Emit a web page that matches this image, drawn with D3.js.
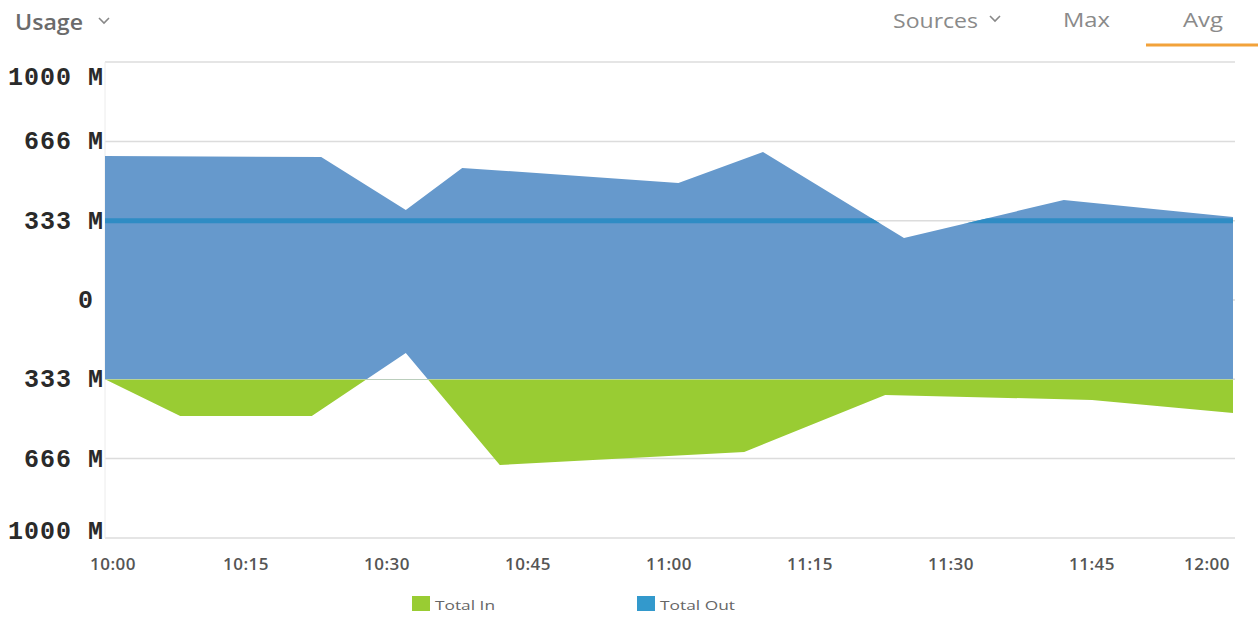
<!DOCTYPE html>
<html>
<head>
<meta charset="utf-8">
<script src="https://cdn.jsdelivr.net/npm/d3@7/dist/d3.min.js"></script>
<style>
  body { margin: 0; background: #fff; }
</style>
</head>
<body>
<script>
var w = 1258;
var h = 617;

// total out (upper edge of blue area), sampled times
var outTimes = ["10:00", "10:23", "10:32", "10:38", "11:01", "11:10", "11:25", "11:42", "12:00"];
var outValues = [605, 601, 378, 555, 492, 622, 261, 420, 349];

// total in (lower edge of green area)
var inTimes = ["10:00", "10:08", "10:22", "10:32", "10:42", "11:08", "11:23", "11:45", "12:00"];
var inValues = [-333, -487, -487, -223, -693, -639, -399, -420, -475];

var baseline = -333;
var avgLine = 333;

var yTicks = [1000, 666, 333, 0, -333, -666, -1000];
var xTicks = ["10:00", "10:15", "10:30", "10:45", "11:00", "11:15", "11:30", "11:45", "12:00"];
var legendNames = ["Total In", "Total Out"];

var parse = d3.timeParse("%H:%M");

var svg = d3.select("body")
    .append("svg")
    .attr("width", w)
    .attr("height", h);

var x = d3.scaleTime()
    .domain([parse("10:00"), parse("12:00")])
    .range([105, 1233]);

var y = d3.scaleLinear()
    .domain([-1000, 1000])
    .range([538, 62]);

// header
function headerText(tx, ty, label, len, weight, size, color) {
    svg.append("text")
        .attr("x", tx).attr("y", ty)
        .attr("font-family", "Open Sans")
        .attr("font-weight", weight)
        .attr("font-size", size)
        .attr("fill", color)
        .attr("textLength", len)
        .attr("lengthAdjust", "spacingAndGlyphs")
        .text(label);
}
function chevron(cx, cy) {
    svg.append("path")
        .attr("d", "M" + (cx - 5) + "," + (cy - 3) + "L" + cx + "," + (cy + 2) + "L" + (cx + 5) + "," + (cy - 3))
        .attr("fill", "none")
        .attr("stroke", "#888")
        .attr("stroke-width", 1.6);
}
headerText(15, 30, "Usage", 68, 600, "21px", "#6b6b6b");
chevron(104, 21);
headerText(893, 28, "Sources", 85, 400, "20px", "#8a8a8a");
chevron(995, 19);
headerText(1063, 27, "Max", 47, 400, "20px", "#8a8a8a");
headerText(1183, 27, "Avg", 40, 400, "20px", "#8a8a8a");
svg.append("line")
    .attr("x1", 1146).attr("x2", 1258)
    .attr("y1", 45).attr("y2", 45)
    .attr("stroke", "#f2a23a")
    .attr("stroke-width", 3);

// grid
svg.append("g")
    .selectAll("line")
    .data(yTicks)
    .enter()
    .append("line")
    .attr("x1", 105)
    .attr("x2", 1235)
    .attr("y1", function(d) { return y(d); })
    .attr("y2", function(d) { return y(d); })
    .attr("stroke", "#dcdcdc")
    .attr("stroke-width", 1.5);

svg.append("line")
    .attr("x1", 105).attr("x2", 105)
    .attr("y1", y(1000)).attr("y2", y(-1000))
    .attr("stroke", "#ececec");

var outData = outTimes.map(function(t, i) { return { t: parse(t), v: outValues[i] }; });
var inData = inTimes.map(function(t, i) { return { t: parse(t), v: inValues[i] }; });

var outArea = d3.area()
    .x(function(d) { return x(d.t); })
    .y0(y(baseline))
    .y1(function(d) { return y(d.v); });

var inArea = d3.area()
    .x(function(d) { return x(d.t); })
    .y0(y(baseline))
    .y1(function(d) { return y(d.v); });

var defs = svg.append("defs");
defs.append("clipPath").attr("id", "below")
    .append("rect")
    .attr("x", 0).attr("y", y(baseline))
    .attr("width", w).attr("height", h);
defs.append("clipPath").attr("id", "above")
    .append("rect")
    .attr("x", 0).attr("y", 0)
    .attr("width", w).attr("height", y(baseline));
defs.append("clipPath").attr("id", "outclip")
    .append("path")
    .datum(outData)
    .attr("d", outArea);

// blue area
svg.append("path")
    .datum(outData)
    .attr("d", outArea)
    .attr("fill", "#6699cc");

// avg line, only shows inside the blue area
svg.append("line")
    .attr("x1", 105).attr("x2", 1233)
    .attr("y1", y(avgLine)).attr("y2", y(avgLine))
    .attr("clip-path", "url(#outclip)")
    .attr("stroke", "#2f8cc4")
    .attr("stroke-width", 5);

// in area, green below baseline, white where it rises above
svg.append("path")
    .datum(inData)
    .attr("d", inArea)
    .attr("clip-path", "url(#below)")
    .attr("fill", "#99cc33");
svg.append("path")
    .datum(inData)
    .attr("d", inArea)
    .attr("clip-path", "url(#above)")
    .attr("fill", "#ffffff");

// y labels
svg.append("g")
    .selectAll("text")
    .data(yTicks)
    .enter()
    .append("text")
    .attr("x", function(d) { return d === 0 ? 94 : 104; })
    .attr("y", function(d) { return Math.min(Math.max(y(d), 77), 531) + 8; })
    .attr("text-anchor", "end")
    .attr("font-family", "Liberation Mono")
    .attr("font-weight", "bold")
    .attr("font-size", "25px")
    .attr("letter-spacing", "1px")
    .attr("fill", "#2a2a2a")
    .text(function(d) { return d === 0 ? "0" : Math.abs(d) + " M"; });

// x axis labels
var xLabels = svg.append("g")
    .selectAll("text")
    .data(xTicks)
    .enter()
    .append("text")
    .attr("y", 570)
    .attr("text-anchor", "middle")
    .attr("font-family", "Open Sans")
    .attr("font-weight", 600)
    .attr("font-size", "17px")
    .attr("letter-spacing", "0.5px")
    .attr("fill", "#555")
    .text(function(d) { return d; })
    .attr("x", function(d) { return x(parse(d)); });

xLabels.each(function() {
    var t = d3.select(this);
    var cx = +t.attr("x");
    var half = this.getComputedTextLength() / 2;
    if (cx - half < 90) t.attr("x", 90 + half);
    if (cx + half > 1230) t.attr("x", 1230 - half);
});

// legend
var legendX = [412, 637];
var legendLen = [60, 75];
var legendColors = ["#99cc33", "#3399cc"];
var legend = svg.append("g")
    .selectAll("g")
    .data(legendNames)
    .enter()
    .append("g")
    .attr("transform", function(d, i) { return "translate(" + legendX[i] + ",596)"; });
legend.append("rect")
    .attr("width", 18).attr("height", 15)
    .attr("fill", function(d, i) { return legendColors[i]; });
legend.append("text")
    .attr("x", 23).attr("y", 14)
    .attr("font-family", "Open Sans")
    .attr("font-size", "13px")
    .attr("fill", "#666")
    .attr("textLength", function(d, i) { return legendLen[i]; })
    .attr("lengthAdjust", "spacingAndGlyphs")
    .text(function(d) { return d; });
</script>
</body>
</html>
